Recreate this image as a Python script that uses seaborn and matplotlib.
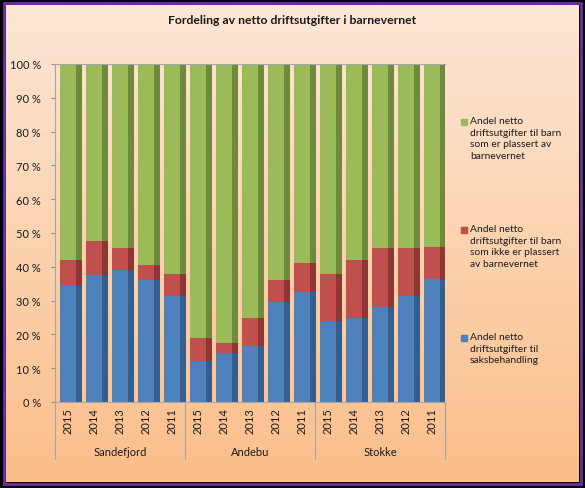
import numpy as np
import pandas as pd
import matplotlib.pyplot as plt
import seaborn as sns
from matplotlib.patches import Rectangle
from matplotlib.colors import LinearSegmentedColormap
from matplotlib import transforms

# Data (in percent)
kommuner = ["Sandefjord", "Andebu", "Stokke"]
years = ["2015", "2014", "2013", "2012", "2011"]
saksbehandling = [34.5, 37.5, 39, 36, 31.5, 12, 14.5, 16.5, 29.5, 32.5, 24, 25, 28, 31.5, 36.5]
ikke_plassert = [7.5, 10, 6.5, 4.5, 6.5, 7, 3, 8.5, 6.5, 8.5, 14, 17, 17.5, 14, 9.5]
plassert = [100 - a - b for a, b in zip(saksbehandling, ikke_plassert)]

labels = [
    "Andel netto\ndriftsutgifter til barn\nsom er plassert av\nbarnevernet",
    "Andel netto\ndriftsutgifter til barn\nsom ikke er plassert\nav barnevernet",
    "Andel netto\ndriftsutgifter til\nsaksbehandling",
]
colors = ["#9bbb59", "#c0504d", "#4f81bd"]
side_colors = ["#6f8a3c", "#8e3634", "#375d8c"]

df = pd.DataFrame({
    "kommune": np.repeat(kommuner, len(years)),
    "aar": years * len(kommuner),
    "saks": saksbehandling,
    "ikke": ikke_plassert,
    "plassert": plassert,
})
df["kat"] = df["kommune"] + " " + df["aar"]
df["blue_top"] = df["saks"]
df["red_top"] = df["saks"] + df["ikke"]
df["green_top"] = df["red_top"] + df["plassert"]

plt.rcParams["font.family"] = ["Lato", "DejaVu Sans"]

W, H = 585, 489
fig = plt.figure(figsize=(W / 100, H / 100), dpi=100)
fig.patch.set_facecolor("black")

# peach gradient background with purple frame
bg = fig.add_axes([6 / W, 6 / H, 1 - 12 / W, 1 - 12 / H], zorder=-10)
cmap = LinearSegmentedColormap.from_list("bg", ["#fde7d6", "#fcd3b0", "#fbbe8a"])
bg.imshow(np.linspace(0, 1, 256)[:, None], aspect="auto", cmap=cmap,
          extent=[0, 1, 0, 1], origin="upper")
bg.axis("off")
fig.patches.append(Rectangle((4 / W, 4 / H), 1 - 8 / W, 1 - 8 / H, transform=fig.transFigure,
                             fill=False, edgecolor="#7030a0", lw=2))

ax = fig.add_axes([55 / W, (H - 403) / H, 390 / W, 338 / H])
ax.patch.set_alpha(0)

x = np.arange(len(df))
for col, c, sc in zip(["green_top", "red_top", "blue_top"], colors, side_colors):
    sns.barplot(data=df, x="kat", y=col, color=c, width=0.65, saturation=1,
                errorbar=None, linewidth=0, ax=ax)
    # darker side face for the 3D look
    ax.bar(x + 0.425, df[col], width=0.2, color=sc, linewidth=0)

ax.set_xlim(-0.5, 14.5)
ax.set_ylim(0, 100)
ax.set_xlabel("")
ax.set_ylabel("")
ax.set_yticks(range(0, 101, 10))
ax.set_yticklabels([f"{v} %" for v in range(0, 101, 10)], fontsize=8, color="#1a1a1a")
ax.set_xticks(x)
ax.set_xticklabels(df["aar"], rotation=90, fontsize=8, color="#1a1a1a")
ax.tick_params(axis="x", length=0, pad=4)
ax.tick_params(axis="y", length=3, pad=7, color="#8c8c8c")
ax.spines["right"].set_visible(False)
for s in ["left", "bottom", "top"]:
    ax.spines[s].set_color("#a6a6a6")

# group labels and separators
trans = transforms.blended_transform_factory(ax.transData, ax.transAxes)
for i, k in enumerate(kommuner):
    ax.text(i * 5 + 2, -0.145, k, transform=trans, ha="center", va="center",
            fontsize=8, color="#1a1a1a")
for b in [-0.5, 4.5, 9.5, 14.5]:
    ax.plot([b, b], [0, -0.169], transform=trans, color="#a6a6a6", lw=0.8, clip_on=False)

# legend
for lab, c, ytop in zip(labels, colors, [117, 225, 333]):
    fig.patches.append(Rectangle((461 / W, (H - ytop - 9) / H), 6 / W, 6 / H,
                                 transform=fig.transFigure, color=c))
    fig.text(470 / W, (H - ytop) / H, lab, fontsize=7.4, va="top", ha="left",
             linespacing=1.38, color="#1a1a1a")

fig.text(0.5, (H - 20) / H, "Fordeling av netto driftsutgifter i barnevernet",
         ha="center", va="center", fontsize=8.8, fontweight="bold", color="#1a1a1a")

fig.savefig("out.png", dpi=100, facecolor=fig.get_facecolor())
